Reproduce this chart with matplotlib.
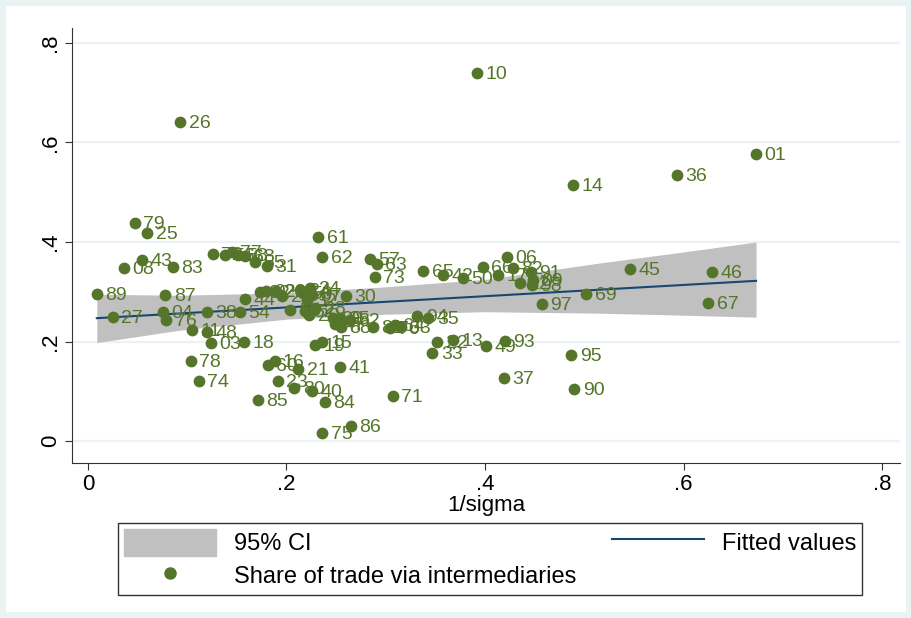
import matplotlib.pyplot as plt
import matplotlib.patches as mpatches
from matplotlib.lines import Line2D

plt.rcParams['font.family'] = ['Liberation Sans', 'DejaVu Sans']

# 散点数据 (1/sigma, share of trade via intermediaries, label)
labels = ['10', '26', '01', '36', '14', '79', '25', '61', '62', '08',
          '43', '83', '72', '56', '77', '58', '68', '55', '31', '89',
          '87', '27', '04', '76', '38', '54', '44', '02', '92', '22',
          '29', '53', '24', '59', '34', '07', '32', '52', '28', '20',
          '30', '39', '05', '47', '88', '82', '81', '70', '64', '63',
          '94', '35', '22', '13', '33', '49', '93', '95', '90', '37',
          '71', '86', '75', '84', '85', '40', '80', '23', '78', '74',
          '03', '18', '11', '48', '16', '60', '21', '41', '15', '19',
          '57', '63', '73', '65', '42', '50', '66', '17', '06', '82',
          '12', '91', '09', '98', '45', '46', '67', '69', '97']
x_vals = [0.392, 0.093, 0.673, 0.593, 0.489, 0.047, 0.060, 0.232, 0.236, 0.036,
          0.055, 0.086, 0.126, 0.138, 0.145, 0.151, 0.158, 0.168, 0.180, 0.009,
          0.078, 0.025, 0.076, 0.079, 0.120, 0.153, 0.158, 0.173, 0.179, 0.189,
          0.196, 0.204, 0.214, 0.217, 0.224, 0.226, 0.221, 0.219, 0.229, 0.223,
          0.260, 0.247, 0.254, 0.249, 0.255, 0.264, 0.287, 0.304, 0.309, 0.315,
          0.332, 0.343, 0.352, 0.368, 0.347, 0.401, 0.420, 0.487, 0.490, 0.419,
          0.307, 0.265, 0.236, 0.239, 0.171, 0.226, 0.208, 0.191, 0.104, 0.112,
          0.124, 0.157, 0.105, 0.120, 0.188, 0.181, 0.212, 0.254, 0.236, 0.229,
          0.284, 0.291, 0.289, 0.338, 0.358, 0.378, 0.398, 0.413, 0.422, 0.428,
          0.435, 0.446, 0.448, 0.447, 0.546, 0.629, 0.625, 0.502, 0.457]
y_vals = [0.740, 0.641, 0.577, 0.535, 0.515, 0.438, 0.418, 0.410, 0.370, 0.348,
          0.364, 0.350, 0.376, 0.374, 0.380, 0.374, 0.372, 0.360, 0.352, 0.295,
          0.293, 0.249, 0.259, 0.243, 0.259, 0.259, 0.285, 0.299, 0.302, 0.302,
          0.291, 0.263, 0.304, 0.297, 0.308, 0.293, 0.283, 0.261, 0.267, 0.253,
          0.291, 0.247, 0.247, 0.236, 0.229, 0.243, 0.229, 0.227, 0.233, 0.229,
          0.251, 0.247, 0.199, 0.203, 0.177, 0.191, 0.201, 0.173, 0.105, 0.127,
          0.090, 0.030, 0.016, 0.078, 0.082, 0.100, 0.107, 0.121, 0.161, 0.121,
          0.197, 0.199, 0.223, 0.219, 0.161, 0.153, 0.145, 0.149, 0.199, 0.193,
          0.366, 0.356, 0.330, 0.342, 0.334, 0.328, 0.350, 0.334, 0.370, 0.348,
          0.318, 0.340, 0.324, 0.314, 0.346, 0.340, 0.277, 0.295, 0.275]

# 拟合线与95%置信区间
fit_x = [0.009, 0.673]
fit_y = [0.247, 0.322]
ci_x = [0.009, 0.093, 0.2, 0.3, 0.4, 0.516, 0.6, 0.673]
ci_lo = [0.198, 0.223, 0.245, 0.255, 0.260, 0.257, 0.253, 0.249]
ci_hi = [0.295, 0.293, 0.298, 0.310, 0.325, 0.358, 0.380, 0.400]

green = '#55752a'
navy = '#1a476f'

fig = plt.figure(figsize=(9.12, 6.18), dpi=100)
fig.patch.set_facecolor('#eaf2f3')
fig.patches.append(mpatches.Rectangle((6 / 912, 6 / 618), 900 / 912, 606 / 618,
                                      transform=fig.transFigure, facecolor='white',
                                      edgecolor='none', zorder=-10))

ax = fig.add_axes([72 / 912, 155 / 618, 828 / 912, 435 / 618])
ax.set_zorder(1)
ax.set_facecolor('white')

ax.fill_between(ci_x, ci_lo, ci_hi, color='#c0c0c0', linewidth=0, zorder=2)
ax.plot(fit_x, fit_y, color=navy, linewidth=1.5, zorder=3)
ax.scatter(x_vals, y_vals, s=72, color=green, linewidths=0, zorder=4)
for lab, xv, yv in zip(labels, x_vals, y_vals):
    ax.annotate(lab, (xv, yv), xytext=(6, -1), textcoords='offset points',
                va='center', ha='left', color=green, fontsize=14, zorder=5)

ax.set_xlim(-0.016, 0.818)
ax.set_ylim(-0.044, 0.83)
ax.set_xticks([0, 0.2, 0.4, 0.6, 0.8])
ax.set_xticklabels(['0', '.2', '.4', '.6', '.8'], fontsize=16)
ax.set_yticks([0, 0.2, 0.4, 0.6, 0.8])
ax.set_yticklabels(['0', '.2', '.4', '.6', '.8'], fontsize=16, rotation=90, va='center')
ax.grid(axis='y', color='#eaf2f3', linewidth=1.6, zorder=1)
ax.set_axisbelow(True)
for s in ['top', 'right']:
    ax.spines[s].set_visible(False)
ax.spines['left'].set_color('#333333')
ax.spines['bottom'].set_color('#333333')
ax.tick_params(length=5, color='#333333', pad=3)
ax.set_xlabel('1/sigma', fontsize=16, labelpad=0)

h_ci = mpatches.Patch(color='#c0c0c0', label='95% CI')
h_fit = Line2D([], [], color=navy, linewidth=1.5, label='Fitted values')
h_pts = Line2D([], [], color=green, marker='o', linestyle='none', markersize=8,
               label='Share of trade via intermediaries')
leg = fig.legend(handles=[h_ci, h_pts, h_fit], ncol=2, loc='lower left',
                 bbox_to_anchor=(118 / 912, 23 / 618, 744 / 912, 70 / 618),
                 mode='expand', fontsize=17, frameon=True, fancybox=False,
                 edgecolor='black', handlelength=3.9, handleheight=1.4,
                 borderpad=0.25, labelspacing=0.25, handletextpad=0.75, borderaxespad=0)
leg.get_frame().set_linewidth(1.0)

plt.savefig('out.png', dpi=100, facecolor=fig.get_facecolor())
